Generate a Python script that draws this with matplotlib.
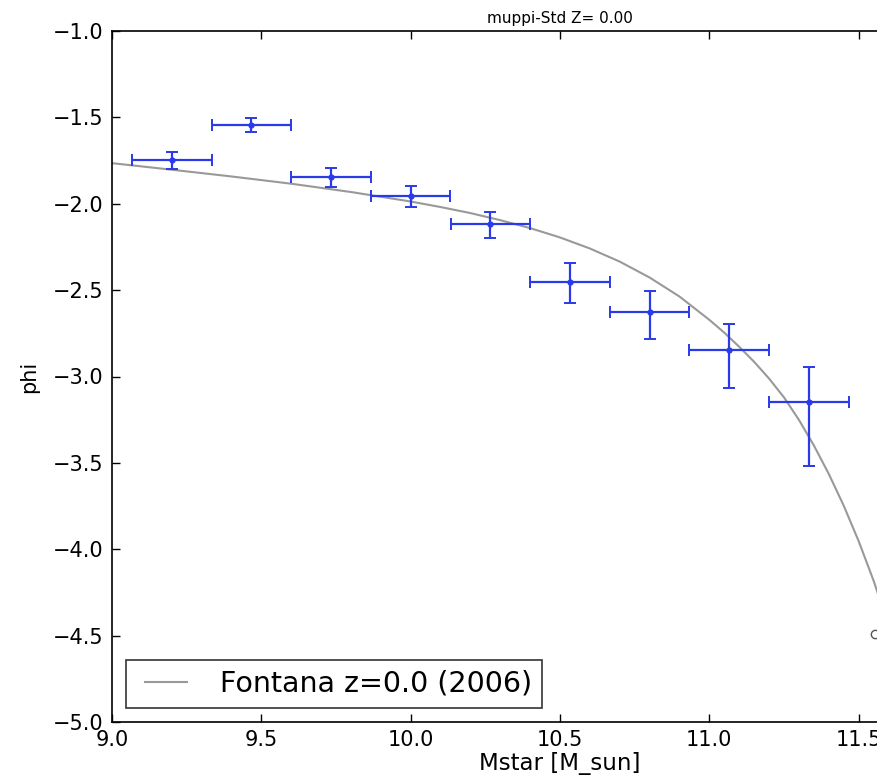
import matplotlib
matplotlib.use("Agg")
import matplotlib.pyplot as plt
from matplotlib.lines import Line2D
import numpy as np

# Data points (binned mass function)
mstar = [9.2, 9.4667, 9.7333, 10.0, 10.2667, 10.5333, 10.8, 11.0667, 11.3333]
phi = [-1.748, -1.544, -1.847, -1.955, -2.119, -2.451, -2.625, -2.847, -3.146]
phi_err_low = [0.053, 0.043, 0.058, 0.066, 0.081, 0.126, 0.160, 0.221, 0.372]
phi_err_high = [0.046, 0.042, 0.052, 0.058, 0.073, 0.106, 0.120, 0.151, 0.199]
mstar_halfbin = [0.1333] * 9

# Fontana z=0.0 (2006) curve
fontana_m = [9.0, 9.2, 9.4, 9.6, 9.8, 10.0, 10.1, 10.2, 10.3, 10.4, 10.5,
             10.6, 10.7, 10.8, 10.9, 11.0, 11.05, 11.1, 11.15, 11.2, 11.25,
             11.3, 11.35, 11.4, 11.45, 11.5, 11.55, 11.6]
fontana_phi = [-1.765, -1.803, -1.842, -1.884, -1.932, -1.987, -2.019, -2.054,
               -2.095, -2.141, -2.195, -2.259, -2.335, -2.427, -2.537, -2.672,
               -2.746, -2.828, -2.915, -3.012, -3.121, -3.251, -3.399, -3.564,
               -3.748, -3.953, -4.182, -4.439]

# partially visible marker at the right edge
edge_x = [11.556]
edge_y = [-4.49]

curve_color = '#999999'


class ShortLineHandler:
    def legend_artist(self, legend, orig_handle, fontsize, handlebox):
        x0, y0 = handlebox.xdescent, handlebox.ydescent
        w, h = handlebox.width, handlebox.height
        line = Line2D([x0 + 0.176 * w, x0 + w], [y0 + h / 2, y0 + h / 2],
                      color=orig_handle.get_color(),
                      lw=orig_handle.get_linewidth(),
                      transform=handlebox.get_transform())
        handlebox.add_artist(line)
        return line


fig = plt.figure(figsize=(8.77, 7.84), dpi=100)
ax = fig.add_axes([112/877, 62/784, 896/877, 691/784])

curve, = ax.plot(fontana_m, fontana_phi, color=curve_color, lw=1.5,
                 label='Fontana z=0.0 (2006)', zorder=2)

blue = '#2a3ae8'
ax.errorbar(mstar, phi, xerr=mstar_halfbin, yerr=[phi_err_low, phi_err_high],
            fmt='o', color=blue, ms=3.5, elinewidth=1.6, capsize=4,
            capthick=1.4, zorder=3)

ax.plot(edge_x, edge_y, 'o', mfc='none', mec='#555555', ms=6, mew=1.0,
        clip_on=False)

ax.set_xlim(9.0, 12.0)
ax.set_ylim(-5.0, -1.0)
ax.set_xticks(np.arange(9.0, 12.01, 0.5))
ax.set_yticks(np.arange(-5.0, -0.99, 0.5))
ax.tick_params(direction='in', top=True, right=True, length=6, width=1,
               labelsize=15, pad=6)
for s in ax.spines.values():
    s.set_linewidth(1.2)

ax.set_title('muppi-Std Z= 0.00', fontsize=11, pad=6)
ax.set_xlabel('Mstar [M_sun]', fontsize=16.5, labelpad=1)
ax.set_ylabel('phi', fontsize=15, labelpad=10)

leg = ax.legend(handles=[curve], loc='lower left', fontsize=20.5,
                frameon=True, fancybox=False,
                handlelength=1.79, handletextpad=1.16, borderpad=0.35,
                borderaxespad=0.5,
                handler_map={Line2D: ShortLineHandler()})
leg.get_frame().set_edgecolor('black')
leg.get_frame().set_linewidth(1.2)

fig.savefig('out.png', dpi=100)
